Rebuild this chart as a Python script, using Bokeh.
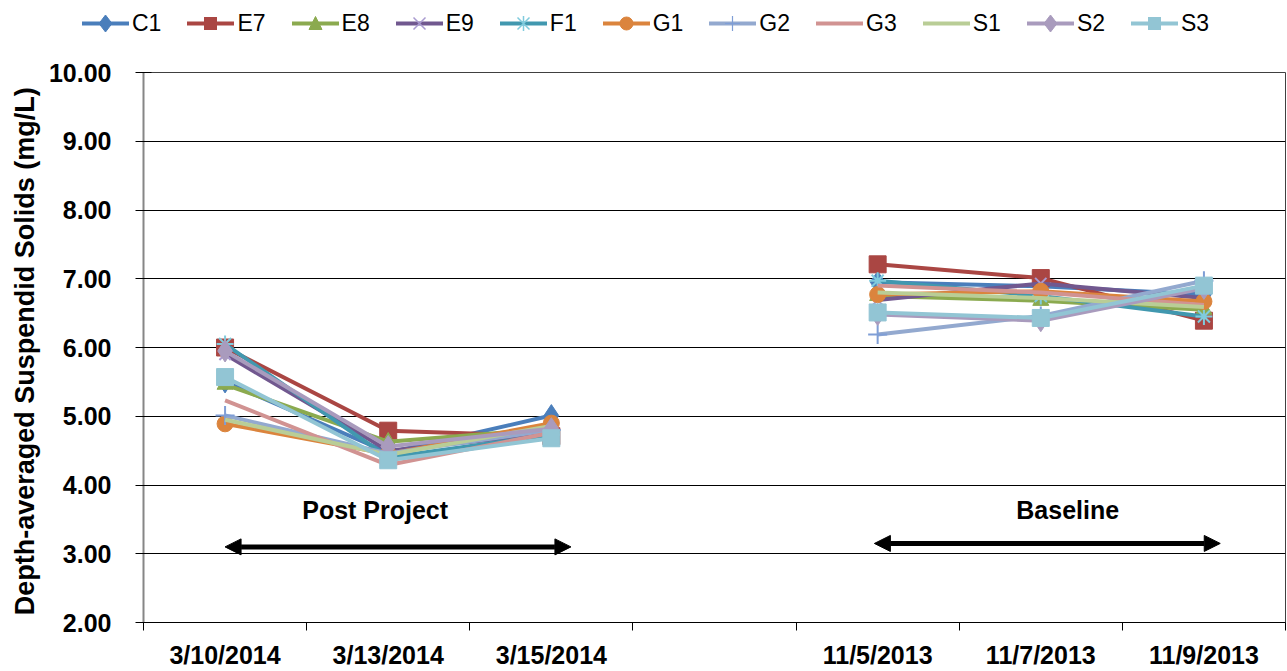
import math
from bokeh.plotting import figure
from bokeh.layouts import column
from bokeh.models import (Range1d, LinearAxis, FixedTicker, NumeralTickFormatter, Div,
                          Arrow, NormalHead, Label, CustomJSTickFormatter)
from bokeh.embed import file_html
from bokeh.resources import INLINE

nan = float("nan")

# ---------------- data ----------------
dates = ["3/10/2014", "3/13/2014", "3/15/2014", " ", "11/5/2013", "11/7/2013", "11/9/2013"]
y_ticks = [2, 3, 4, 5, 6, 7, 8, 9, 10]

C1 = [5.50, 4.47, 5.01, nan, 6.95, 6.89, 6.77]
E7 = [6.00, 4.79, 4.71, nan, 7.21, 7.01, 6.39]
E8 = [5.46, 4.63, 4.82, nan, 6.75, 6.68, 6.55]
E9 = [5.90, 4.50, 4.75, nan, 6.69, 6.93, 6.72]
F1 = [6.05, 4.40, 4.73, nan, 6.97, 6.75, 6.45]
G1 = [4.89, 4.45, 4.90, nan, 6.77, 6.82, 6.67]
G2 = [5.01, 4.46, 4.80, nan, 6.19, 6.46, 6.97]
G3 = [5.23, 4.29, 4.76, nan, 6.90, 6.80, 6.62]
S1 = [4.95, 4.44, 4.86, nan, 6.80, 6.72, 6.59]
S2 = [5.95, 4.56, 4.82, nan, 6.48, 6.39, 6.86]
S3 = [5.57, 4.36, 4.68, nan, 6.51, 6.43, 6.90]

series_names = ["C1", "E7", "E8", "E9", "F1", "G1", "G2", "G3", "S1", "S2", "S3"]
series_values = [C1, E7, E8, E9, F1, G1, G2, G3, S1, S2, S3]

# category slot -> position on the axis (slot centres), slot boundaries for tick marks
x_pos = [i + 0.5 for i in range(len(dates))]
boundaries = list(range(len(dates) + 1))

# ---------------- styles ----------------
line_colors = ["#4A7EBB", "#AA4643", "#8BAA4F", "#71588F", "#4198AF", "#DB843D",
               "#93A9CF", "#D19392", "#B9CD96", "#A99BBD", "#92C5D4"]
markers = ["diamond", "square", "triangle", "x", "asterisk", "circle",
           "cross", None, None, "diamond", "square"]
marker_sizes = [22, 17, 16, 16, 17, 16, 19, 0, 0, 22, 17]
marker_line = ["#4A7EBB", "#AA4643", "#8BAA4F", "#A99BD0", "#80CBDD", "#DB843D",
               "#7F9ED6", None, None, "#A99BBD", "#92C5D4"]
FONT = "Liberation Sans"
W = 1287
LEG_H = 58

# ---------------- main chart ----------------
p = figure(x_range=Range1d(0, len(dates)), y_range=Range1d(2, 10),
           width=W, height=671 - LEG_H, output_backend="svg", toolbar_location=None,
           x_axis_location=None, y_axis_location="left",
           min_border_left=143, min_border_right=2, min_border_top=14, min_border_bottom=46)

p.background_fill_color = "white"
p.outline_line_color = "#404040"
p.outline_line_width = 1

xax = LinearAxis(ticker=FixedTicker(ticks=x_pos, minor_ticks=boundaries),
                 formatter=CustomJSTickFormatter(args=dict(labels=dates),
                                                 code="const i = Math.floor(tick); return labels[i] ?? '';"),
                 major_tick_in=0, major_tick_out=0, minor_tick_in=0, minor_tick_out=8,
                 major_label_standoff=10,
                 axis_line_color="black", axis_line_width=1,
                 minor_tick_line_color="black", minor_tick_line_width=1,
                 major_label_text_font=FONT, major_label_text_font_style="bold",
                 major_label_text_font_size="25px", major_label_text_color="black")
p.add_layout(xax, "below")

yax = p.yaxis[0]
yax.ticker = FixedTicker(ticks=y_ticks)
yax.formatter = NumeralTickFormatter(format="0.00")
yax.major_tick_in = 8
yax.major_tick_out = 8
yax.minor_tick_line_color = None
yax.major_tick_line_color = "black"
yax.axis_line_color = "#868686"
yax.axis_line_width = 2
yax.major_label_standoff = 24
yax.major_label_text_font = FONT
yax.major_label_text_font_style = "bold"
yax.major_label_text_font_size = "25px"
yax.major_label_text_color = "black"
yax.axis_label = "Depth-averaged Suspendid Solids  (mg/L)"
yax.axis_label_text_font = FONT
yax.axis_label_text_font_style = "bold"
yax.axis_label_text_font_size = "27px"
yax.axis_label_text_color = "black"
yax.axis_label_standoff = 6

p.ygrid.ticker = FixedTicker(ticks=y_ticks)
p.ygrid.grid_line_color = "black"
p.ygrid.grid_line_width = 1
p.xgrid.visible = False

for name, vals, lc, mk, ms, ml in zip(series_names, series_values, line_colors,
                                      markers, marker_sizes, marker_line):
    p.line(x=x_pos, y=vals, line_color=lc, line_width=4)
    if mk is not None:
        if mk in ("x", "asterisk", "cross"):
            p.scatter(x=x_pos, y=vals, size=ms, marker=mk, line_color=ml,
                      line_width=2, fill_color=None)
        else:
            p.scatter(x=x_pos, y=vals, size=ms, marker=mk, line_color=ml,
                      fill_color=lc, line_width=1)

# ---------------- annotations ----------------
for xs, xe, ya in [(0.5, 2.62, 3.10), (4.48, 6.6, 3.15)]:
    p.add_layout(Arrow(x_start=xs, y_start=ya, x_end=xe, y_end=ya,
                       line_width=5, line_color="black",
                       start=NormalHead(size=16, fill_color="black", line_color="black"),
                       end=NormalHead(size=16, fill_color="black", line_color="black")))

for txt, xc in [("Post Project", 1.42), ("Baseline", 5.665)]:
    p.add_layout(Label(x=xc, y=3.63, text=txt, text_font=FONT,
                       text_font_style="bold", text_font_size="25px", text_color="black",
                       text_align="center", text_baseline="middle"))

# ---------------- legend strip (HTML, real text) ----------------
def marker_svg(mk, fill, stroke):
    if mk == "diamond":
        return f'<polygon points="23.5,9 30,17.5 23.5,26 17,17.5" fill="{fill}" stroke="{stroke}"/>'
    if mk == "square":
        return f'<rect x="17.5" y="11.5" width="12" height="12" fill="{fill}" stroke="{stroke}"/>'
    if mk == "triangle":
        return f'<polygon points="23.5,10.5 30,23.5 17,23.5" fill="{fill}" stroke="{stroke}"/>'
    if mk == "circle":
        return f'<circle cx="23.5" cy="17.5" r="6.5" fill="{fill}" stroke="{stroke}"/>'
    if mk == "x":
        return (f'<path d="M17.5 11.5 L29.5 23.5 M29.5 11.5 L17.5 23.5" stroke="{stroke}" '
                f'stroke-width="1.5" fill="none"/>')
    if mk == "asterisk":
        return (f'<path d="M17.5 11.5 L29.5 23.5 M29.5 11.5 L17.5 23.5 M23.5 10 L23.5 25" '
                f'stroke="{stroke}" stroke-width="1.5" fill="none"/>')
    if mk == "cross":
        return (f'<path d="M16 17.5 L31 17.5 M23.5 10 L23.5 25" stroke="{stroke}" '
                f'stroke-width="1.2" fill="none"/>')
    return ""

parts = []
for name, lc, mk, ml in zip(series_names, line_colors, markers, marker_line):
    svg = (f'<svg width="47" height="35" style="display:block">'
           f'<line x1="0" y1="17.5" x2="47" y2="17.5" stroke="{lc}" stroke-width="4"/>'
           f'{marker_svg(mk, lc, ml) if mk else ""}</svg>')
    parts.append(f'<div style="display:flex;align-items:center;height:35px">{svg}'
                 f'<span style="margin-left:3px">{name}</span></div>')

legend_html = (f'<div style="position:relative;width:{W}px;height:{LEG_H}px;'
               f'font-family:\'{FONT}\';font-size:23px;color:black;line-height:1">'
               f'<div style="position:absolute;left:82px;top:6px;display:flex;gap:26px">'
               + "".join(parts) + '</div></div>')
leg = Div(text=legend_html, width=W, height=LEG_H, margin=0)

layout = column(leg, p, spacing=0)
open("out.html", "w").write(file_html(layout, INLINE))
